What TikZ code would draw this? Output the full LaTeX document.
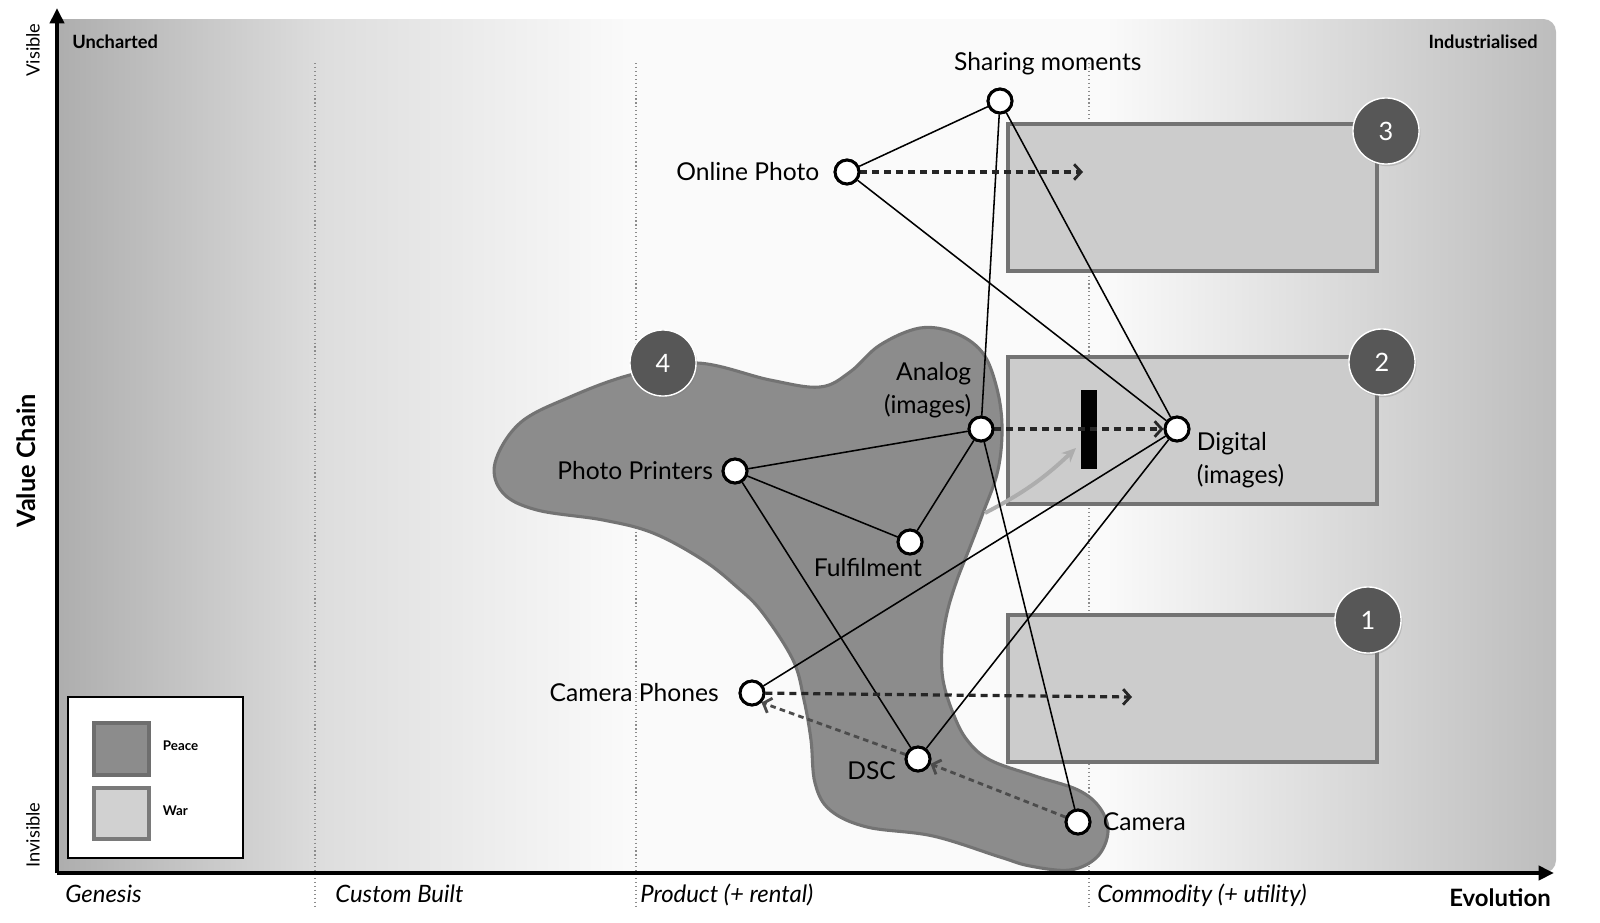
\documentclass[tikz,border=0pt]{standalone}
\usepackage{fontspec}
\setmainfont{Lato}
\usetikzlibrary{arrows.meta, positioning, shadows}
\pgfdeclarehorizontalshading{mapshade}{100bp}{color(0bp)=(black!32); color(25bp)=(black!32); color(34bp)=(black!13); color(44bp)=(black!2); color(60bp)=(black!2); color(75bp)=(black!26); color(100bp)=(black!26)}

\begin{document}
\begin{tikzpicture}[x=0.025cm, y=-0.025cm,
  spot/.style={circle, draw, line width=2.1pt, fill=white, minimum size=17pt, inner sep=0pt},
  lbl/.style={font=\fontsize{17.5}{23.5}\selectfont, inner sep=0pt},
  link/.style={line width=1.1pt},
  move/.style={line width=2.3pt, black!85, dash pattern=on 5pt off 3.5pt, -{Straight Barb[length=5pt, width=11pt, line width=2pt]}},
  drift/.style={line width=2pt, black!70, dash pattern=on 4pt off 3pt, -{Straight Barb[length=5pt, width=11pt, line width=2pt]}},
  warbox/.style={fill=black!20, draw=black!55, line width=2.8pt},
  numdisc/.style={circle, fill=black!66, draw=white, line width=1pt, minimum size=47pt, inner sep=0pt, text=white, font=\fontsize{18}{20}\selectfont, drop shadow={opacity=0.3, shadow xshift=1pt, shadow yshift=-1.5pt}},
  zone/.style={black!45, line width=0.8pt, dotted},
  axisline/.style={line width=2.8pt, -{Triangle[length=11pt, width=10pt]}},
  stage/.style={font=\itshape\fontsize{17}{20}\selectfont, inner sep=0pt}]
\useasboundingbox (0,0) rectangle (1600,922);

% Map background
\shade[shading=mapshade] (800,19) [rounded corners=9pt] -- (1556,19) -- (1556,873) [sharp corners] -- (57,873) -- (57,19) -- cycle;
\foreach \x in {315,636,1089}
  \draw[zone] (\x,63) -- (\x,907);

% Peace region
\draw[fill=black!45, draw=black!55, line width=2.2pt] plot[smooth cycle, tension=0.6] coordinates {
  (495,463) (520,423) (570,397) (630,375) (697,363) (770,380) (820,387) (850,372)
  (880,345) (920,328) (955,333) (982,352) (996,385) (1002,425) (998,470) (983,513)
  (970,547) (957,580) (947,613) (942,647) (943,680) (953,713) (967,740) (990,760)
  (1035,776) (1078,790) (1100,808) (1108,832) (1097,857) (1070,870) (1030,866) (1000,857)
  (933,836) (867,827) (830,810) (815,783) (811,740) (804,700) (793,660) (762,612)
  (737,587) (703,560) (653,533) (603,520) (537,510) (503,493)};

% War regions
\foreach \t/\b in {615/762, 357/504, 124/271}
  \draw[warbox] (1008,\t) rectangle (1377,\b);
\fill[black] (1081,390) rectangle (1097,469);
\coordinate (pushfrom) at (985,513);
\coordinate (pushto) at (1076,448);
\draw[black!32, line width=2.8pt, -{Stealth[length=10pt, width=9pt]}] (pushfrom) to[bend right=8] (pushto);

% Components
\node[spot] (sharing) at (1000,101) {};
\node[spot] (online) at (847,172) {};
\node[spot] (analog) at (981,429) {};
\node[spot] (digital) at (1177,429) {};
\node[spot] (printers) at (735,471) {};
\node[spot] (fulfil) at (910,542) {};
\node[spot] (phones) at (752,693) {};
\node[spot] (dsc) at (918,759) {};
\node[spot] (camera) at (1078,822) {};

\foreach \a/\b in {sharing/online, sharing/analog, sharing/digital, online/digital,
  analog/printers, analog/fulfil, analog/camera, printers/fulfil, printers/dsc,
  digital/phones, digital/dsc}
  \draw[link] (\a) -- (\b);

% Movement
\coordinate (onlineend) at (1083,172);
\coordinate (phonesend) at (1132,697);
\draw[move] (online) -- (onlineend);
\draw[move] (analog) -- (digital);
\draw[move] (phones) -- (phonesend);
\draw[drift] (camera) -- (dsc);
\draw[drift] (dsc) -- (phones.south east);

\foreach \n in {sharing, online, analog, digital, printers, fulfil, phones, dsc, camera}
  \node[spot] at (\n) {};

\node[lbl, above=9pt of sharing, xshift=34pt] (sharinglbl) {Sharing moments};
\node[lbl, left=10pt of online] (onlinelbl) {Online Photo};
\node[lbl, align=right, above left=1pt and 0pt of analog] (analoglbl) {Analog\\(images)};
\node[lbl, align=left, anchor=north west] (digitallbl) at ([xshift=14pt, yshift=-2pt]digital.center) {Digital\\(images)};
\node[lbl, left=6pt of printers] (printerslbl) {Photo Printers};
\node[lbl, below=2pt of fulfil, xshift=-30pt] (fulfillbl) {Fulfilment};
\node[lbl, left=14pt of phones] (phoneslbl) {Camera Phones};
\node[lbl, left=6pt of dsc, yshift=-8pt] (dsclbl) {DSC};
\node[lbl, right=8pt of camera] (cameralbl) {Camera};

\foreach \n/\x/\y in {1/1368/620, 2/1382/362, 3/1386/131, 4/663/363}
  \node[numdisc] (disc\n) at (\x,\y) {\n};

% Axes
\coordinate (origin) at (57,873);
\coordinate (ytop) at (57,8);
\coordinate (xend) at (1554,873);
\draw[axisline] (origin) -- (ytop);
\draw[axisline] (origin) -- (xend);

\node[font=\bfseries\fontsize{13}{15}\selectfont, anchor=base west, inner sep=0pt] (uncharted) at (72,48) {Uncharted};
\node[font=\bfseries\fontsize{13}{15}\selectfont, anchor=base east, inner sep=0pt] (industrial) at (1538,48) {Industrialised};
\node[rotate=90, font=\fontsize{13}{15}\selectfont] (visible) at (33,50) {Visible};
\node[rotate=90, font=\fontsize{13}{15}\selectfont] (invisible) at (33,835) {Invisible};
\node[rotate=90, font=\bfseries\fontsize{18}{20}\selectfont] (vchain) at (26,461) {Value Chain};
\foreach \x/\t [count=\i] in {65/Genesis, 335/{Custom Built}, 640/{Product (+ rental)}, 1097/{Commodity (+ utility)}}
  \node[stage, anchor=base west] (stage\i) at (\x,902) {\t};
\node[font=\bfseries\fontsize{17}{20}\selectfont, anchor=base east, inner sep=0pt] (evolution) at (1551,906) {Evolution};

% Legend
\draw[fill=white, line width=1pt] (68,697) rectangle (243,858);
\draw[fill=black!45, draw=black!57, line width=2.6pt] (94,723) rectangle (149,775);
\draw[fill=black!18, draw=black!52, line width=2.8pt] (94,788) rectangle (149,839);
\node[font=\bfseries\fontsize{9.5}{11}\selectfont, anchor=west] (peacelbl) at (158,746) {Peace};
\node[font=\bfseries\fontsize{9.5}{11}\selectfont, anchor=west] (warlbl) at (158,811) {War};
\end{tikzpicture}
\end{document}
